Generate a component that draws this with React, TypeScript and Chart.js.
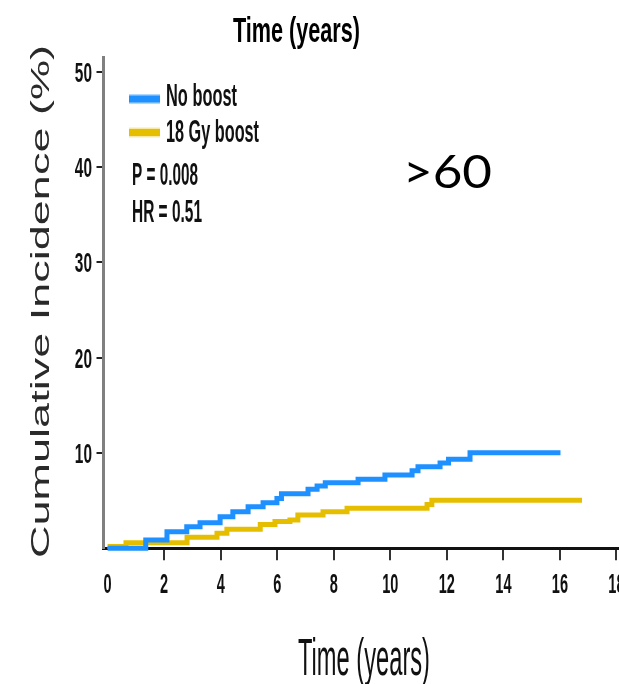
import React, { useEffect, useRef } from "react";
import { Chart, registerables } from "chart.js";

Chart.register(...registerables);

// ---- data ----
const seriesNames = ["No boost", "18 Gy boost"];
const noBoostTimes = [0, 1.35, 2.1, 2.8, 3.27, 3.98, 4.43, 4.97, 5.5, 5.99, 6.15, 7.09, 7.41, 7.7, 8.86, 9.81, 10.77, 10.98, 11.76, 12.06, 12.82, 16.02];
const noBoostValues = [0, 0.87, 1.74, 2.27, 2.69, 3.32, 3.84, 4.37, 4.77, 5.22, 5.72, 6.19, 6.54, 6.88, 7.24, 7.69, 8.14, 8.56, 8.95, 9.34, 10.03, 10.03];
const boostTimes = [0, 0.65, 2.81, 3.87, 4.22, 5.4, 5.92, 6.45, 6.73, 7.62, 8.47, 11.3, 11.47, 16.78];
const boostValues = [0.2, 0.59, 1.15, 1.57, 2.0, 2.5, 2.8, 2.97, 3.49, 3.84, 4.2, 4.6, 5.05, 5.05];
const xTickValues = [0, 2, 4, 6, 8, 10, 12, 14, 16, 18];
const xTickLabels = ["0", "2", "4", "6", "8", "10", "12", "14", "16", "18"];
const yTickValues = [10, 20, 30, 40, 50];
const yTickLabels = ["10", "20", "30", "40", "50"];
const statLines = ["P = 0.008", "HR = 0.51"];
const topTitle = "Time (years)";
const xTitle = "Time (years)";
const yTitle = "Cumulative Incidence (%)";
const groupLabel = ">60";

const X_MIN = -0.145;
const X_MAX = 18.09;
const Y_MAX = 51.55;

const BLUE = "#1E90FF";
const YELLOW = "#E6BE00";

function fitText(ctx: CanvasRenderingContext2D, text: string, x: number, y: number, font: string, width: number, color: string, align: "left" | "center" | "right" = "left") {
  ctx.save();
  ctx.font = font;
  const w = ctx.measureText(text).width;
  const sx = width / w;
  ctx.translate(x, y);
  ctx.scale(sx, 1);
  ctx.fillStyle = color;
  ctx.textAlign = align;
  ctx.textBaseline = "alphabetic";
  ctx.fillText(text, 0, 0);
  ctx.restore();
}

function scaledText(ctx: CanvasRenderingContext2D, text: string, x: number, y: number, font: string, sx: number, color: string, align: "left" | "center" | "right") {
  ctx.save();
  ctx.font = font;
  ctx.translate(x, y);
  ctx.scale(sx, 1);
  ctx.fillStyle = color;
  ctx.textAlign = align;
  ctx.textBaseline = "alphabetic";
  ctx.fillText(text, 0, 0);
  ctx.restore();
}

const textPlugin = {
  id: "customTexts",
  afterDraw(chart: any) {
    const ctx: CanvasRenderingContext2D = chart.ctx;
    const xs = chart.scales.x;
    const ys = chart.scales.y;
    const tickFont = 'bold 28px "Liberation Sans", Arial, sans-serif';
    xTickValues.forEach((v, i) => {
      scaledText(ctx, xTickLabels[i], xs.getPixelForValue(v), 593, tickFont, 0.52, "#111", "center");
    });
    yTickValues.forEach((v, i) => {
      scaledText(ctx, yTickLabels[i], 92, ys.getPixelForValue(v) + 10, tickFont, 0.55, "#111", "right");
    });

    // legend
    ctx.save();
    ctx.fillStyle = "rgba(30,144,255,0.35)";
    ctx.fillRect(129, 94, 31, 10);
    ctx.fillStyle = BLUE;
    ctx.fillRect(129, 95.5, 31, 7);
    ctx.fillStyle = "rgba(230,190,0,0.35)";
    ctx.fillRect(129, 127.5, 31, 10);
    ctx.fillStyle = YELLOW;
    ctx.fillRect(129, 129, 31, 7);
    ctx.restore();
    const legFont = 'bold 32px "Liberation Sans", Arial, sans-serif';
    fitText(ctx, seriesNames[0], 166, 106, legFont, 71, "#111");
    fitText(ctx, seriesNames[1], 166, 141.5, legFont, 93, "#111");
    fitText(ctx, statLines[0], 132, 185, legFont, 66, "#111");
    fitText(ctx, statLines[1], 132, 221.5, legFont, 70, "#111");

    // titles
    fitText(ctx, topTitle, 233, 42, 'bold 35px "Liberation Sans", Arial, sans-serif', 127, "#000");
    fitText(ctx, xTitle, 298, 675, '52px "Liberation Sans", Arial, sans-serif', 132, "#111");

    ctx.save();
    ctx.translate(49, 558);
    ctx.rotate(-Math.PI / 2);
    ctx.font = '26px "Liberation Sans", Arial, sans-serif';
    const w = ctx.measureText(yTitle).width;
    ctx.scale(513 / w, 1);
    ctx.fillStyle = "#2a2a2a";
    ctx.textAlign = "left";
    ctx.textBaseline = "alphabetic";
    ctx.fillText(yTitle, 0, 0);
    ctx.restore();

    fitText(ctx, groupLabel, 403, 188, '47px Lato, "Open Sans", sans-serif', 89, "#000");
  },
};

export default function App() {
  const canvasRef = useRef<HTMLCanvasElement | null>(null);

  useEffect(() => {
    const canvas = canvasRef.current;
    if (!canvas) return;
    const chart = new Chart(canvas, {
      type: "line",
      data: {
        datasets: [
          {
            label: seriesNames[0],
            data: noBoostTimes.map((t, i) => ({ x: t, y: noBoostValues[i] })),
            borderColor: BLUE,
            borderWidth: 5,
            stepped: true,
            pointRadius: 0,
            fill: false,
            clip: false as any,
          },
          {
            label: seriesNames[1],
            data: boostTimes.map((t, i) => ({ x: t, y: boostValues[i] })),
            borderColor: YELLOW,
            borderWidth: 5,
            stepped: true,
            pointRadius: 0,
            fill: false,
            clip: false as any,
          },
        ],
      },
      options: {
        responsive: false,
        animation: false,
        devicePixelRatio: 1,
        layout: { padding: { top: 57, right: 21, left: 0, bottom: 0 } },
        plugins: {
          legend: { display: false },
          tooltip: { enabled: false },
          title: { display: false },
        },
        scales: {
          x: {
            type: "linear",
            min: X_MIN,
            max: X_MAX,
            ticks: { display: false, stepSize: 2, includeBounds: false },
            grid: {
              drawOnChartArea: false,
              drawTicks: true,
              tickLength: 12,
              lineWidth: 2,
              color: (c: any) => (c.tick && c.tick.value === 0 ? "rgba(0,0,0,0)" : "#333"),
            },
            border: { display: true, color: "#111", width: 3 },
            afterFit: (s: any) => {
              s.height = 684 - 548.3;
            },
          },
          y: {
            type: "linear",
            min: 0,
            max: Y_MAX,
            ticks: { display: false, stepSize: 10, includeBounds: false },
            grid: {
              drawOnChartArea: false,
              drawTicks: true,
              tickLength: 7,
              lineWidth: 2,
              color: (c: any) => (c.tick && c.tick.value === 0 ? "rgba(0,0,0,0)" : "#222"),
            },
            border: { display: true, color: "#808080", width: 3 },
            afterFit: (s: any) => {
              s.width = 103.5;
            },
          },
        },
      } as any,
      plugins: [textPlugin],
    });
    return () => chart.destroy();
  }, []);

  return (
    <div style={{ position: "absolute", left: 0, top: 0, width: 619, height: 684, overflow: "hidden", background: "#fff" }}>
      <canvas ref={canvasRef} width={640} height={684} style={{ display: "block" }} />
    </div>
  );
}
